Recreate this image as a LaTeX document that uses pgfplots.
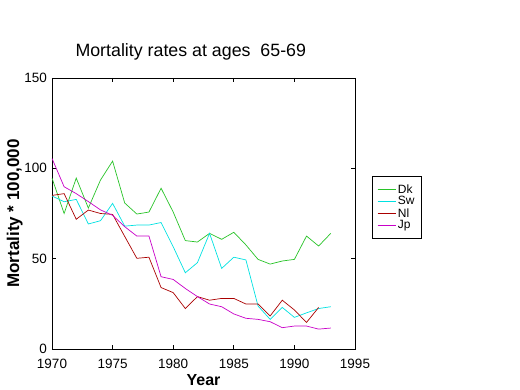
\documentclass[border=0pt]{standalone}
\usepackage{pgfplots}
\pgfplotsset{compat=1.18}
\usepackage{fontspec}
\setmainfont{Liberation Sans}
\definecolor{dk}{RGB}{40,195,40}
\definecolor{sw}{RGB}{0,225,225}
\definecolor{nl}{RGB}{170,0,0}
\definecolor{jp}{RGB}{200,0,200}
\begin{document}
\begin{tikzpicture}[x=1pt,y=1pt]
\useasboundingbox (0,0) rectangle (520,390);
\begin{axis}[
  at={(52pt,41pt)}, anchor=south west,
  scale only axis, width=303pt, height=271pt,
  xmin=1970, xmax=1995, ymin=0, ymax=150,
  xtick={1970,1975,...,1995}, ytick={0,50,100,150},
  tick align=inside, major tick length=4pt,
  tick style={black, line width=0.6pt},
  axis line style={line width=0.8pt},
  x tick label style={font=\fontsize{13.5}{13.5}\selectfont, /pgf/number format/1000 sep={}, inner sep=1pt},
  y tick label style={font=\fontsize{13.5}{13.5}\selectfont, inner sep=1pt},
  /pgf/number format/assume math mode=true,
  xticklabel style={yshift=-9pt},
  yticklabel style={xshift=-4pt},
  title={Mortality rates at ages\ \ 65-69},
  title style={font=\fontsize{17.8}{17.8}\selectfont, at={(0.458,1)}, yshift=8pt},
  xlabel={Year}, ylabel={Mortality * 100,000},
  xlabel style={font=\fontsize{16}{16}\selectfont\bfseries, yshift=-1.5pt},
  ylabel style={font=\fontsize{17}{17}\selectfont\bfseries, yshift=-3pt},
  legend style={at={(1.056,0.638)}, anchor=north west, font=\fontsize{12}{12}\selectfont,
    draw=black, line width=0.6pt, inner xsep=5pt, inner ysep=6pt, row sep=-2pt},
  legend cell align=left,
  legend image code/.code={\draw[#1, line width=0.7pt] (0pt,0pt) -- (18pt,0pt);},
  every axis plot/.append style={line width=0.7pt},
]
\addplot[dk] coordinates {(1970,94.6)(1971,75)(1972,94.6)(1973,78)(1974,93.5)(1975,104)(1976,80.8)(1977,74.7)(1978,75.8)(1979,89)(1980,75.8)(1981,60)(1982,59.2)(1983,64)(1984,60.7)(1985,64.6)(1986,57.6)(1987,49.6)(1988,47)(1989,48.7)(1990,49.6)(1991,62.5)(1992,57)(1993,64)};
\addplot[sw] coordinates {(1970,84.7)(1971,81.5)(1972,82.8)(1973,69.2)(1974,71)(1975,80.6)(1976,68)(1977,68.6)(1978,68.6)(1979,70)(1980,56.6)(1981,42.2)(1982,47.8)(1983,64)(1984,44.6)(1985,50.8)(1986,49.3)(1987,23.8)(1988,16.4)(1989,23)(1990,17.5)(1991,20)(1992,22.4)(1993,23.4)};
\addplot[nl] coordinates {(1970,85)(1971,86)(1972,71.8)(1973,76.9)(1974,75)(1975,74.5)(1976,62.3)(1977,50.2)(1978,50.8)(1979,34)(1980,31.2)(1981,22.4)(1982,29)(1983,27)(1984,28)(1985,28)(1986,24.9)(1987,24.9)(1988,18.3)(1989,27)(1990,21.6)(1991,14.7)(1992,23)};
\addplot[jp] coordinates {(1970,105.5)(1971,89.8)(1972,86)(1973,81.6)(1974,77)(1975,74)(1976,67.7)(1977,62.5)(1978,62.5)(1979,40)(1980,38.5)(1981,33.5)(1982,29)(1983,24.9)(1984,23.4)(1985,19.4)(1986,17)(1987,16.4)(1988,15.1)(1989,11.8)(1990,12.7)(1991,12.7)(1992,11)(1993,11.6)};
\legend{Dk,Sw,Nl,Jp}
\end{axis}
\end{tikzpicture}
\end{document}
